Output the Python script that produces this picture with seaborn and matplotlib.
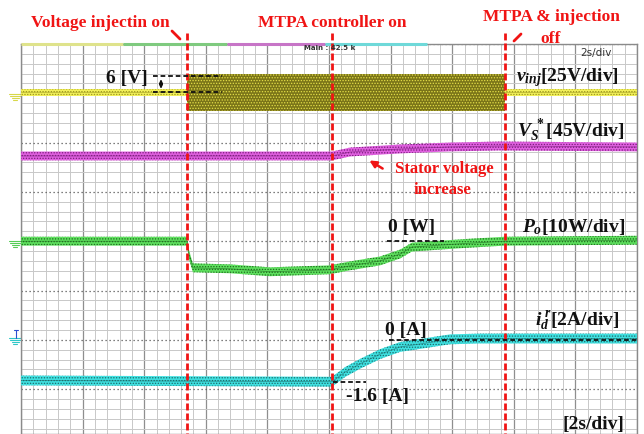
import numpy as np
import pandas as pd
import matplotlib
matplotlib.use("Agg")
import matplotlib.pyplot as plt
import seaborn as sns
from matplotlib.ticker import MultipleLocator, NullFormatter

# ---------------- data ----------------
# time axis: 2 s/div, 10 divisions
event_times = [5.39, 10.10, 15.71]      # injection on, MTPA on, MTPA & injection off

# v_inj [25 V/div], ground at 7.0 div
vinj_t = [0.0, 5.39, 5.39, 15.71, 15.71, 20.0]
vinj_center = [0.5, 0.5, 0.3, 0.3, 0.5, 0.5]
vinj_halfwidth = [1.6, 1.6, 9.3, 9.3, 1.6, 1.6]

# V_s* [45 V/div], reference offset 5.0 div
vs_t = [0.0, 10.10, 10.68, 12.31, 13.93, 15.55, 20.0]
vs_v = [32.8, 32.8, 36.4, 39.2, 41.0, 41.9, 41.0]

# P_o [10 W/div], ground at 4.0 div
po_t = [0.0, 5.39, 5.45, 5.58, 6.79, 8.08, 9.06, 10.03, 10.68, 11.66, 12.31,
        12.69, 13.60, 14.58, 15.71, 20.0]
po_v = [0.0, 0.0, -2.6, -5.4, -5.6, -6.2, -6.0, -5.8, -5.0, -4.0, -2.6,
        -1.2, -0.8, -0.4, 0.0, 0.2]

# i_d^r [2 A/div], ground at 2.0 div
id_t = [0.0, 10.10, 10.52, 11.00, 11.66, 12.31, 12.95, 13.93, 14.90, 20.0]
id_v = [-1.65, -1.70, -1.31, -0.98, -0.58, -0.29, -0.17, 0.02, 0.05, 0.05]

# ---------------- style ----------------
sns.set_theme(style="white")
plt.rcParams["font.family"] = ["Liberation Serif", "DejaVu Sans"]
plt.rcParams["mathtext.fontset"] = "custom"
plt.rcParams["mathtext.rm"] = "Liberation Serif:bold"
plt.rcParams["mathtext.it"] = "Liberation Serif:italic:bold"
plt.rcParams["mathtext.bf"] = "Liberation Serif:bold"
plt.rcParams["hatch.linewidth"] = 0.6

W, H = 644, 435
fig = plt.figure(figsize=(W / 100, H / 100), dpi=100)
DIV_PX_X, DIV_PX_Y = 61.6, 49.3
GRID_L, GRID_T = 21, 45
ax = fig.add_axes([GRID_L / W, 0, 616 / W, (H - GRID_T) / H])
ybot = 8 - (H - GRID_T) / DIV_PX_Y
ax.set_xlim(0, 20)
ax.set_ylim(ybot, 8)


def X(px):
    return (px - GRID_L) / DIV_PX_X * 2.0


def Y(py):
    return 8 - (py - GRID_T) / DIV_PX_Y


# grid
ax.xaxis.set_major_locator(MultipleLocator(2))
ax.xaxis.set_minor_locator(MultipleLocator(0.4))
ax.yaxis.set_major_locator(MultipleLocator(1))
ax.yaxis.set_minor_locator(MultipleLocator(0.2))
ax.xaxis.set_major_formatter(NullFormatter())
ax.yaxis.set_major_formatter(NullFormatter())
ax.tick_params(which="both", length=0)
ax.grid(which="minor", color="#c8c8c8", lw=0.7)
ax.grid(which="major", axis="x", color="#8e8e8e", lw=0.9)
ax.grid(which="major", axis="y", color="#555555", lw=0.9, ls=(0, (1, 2.2)))
ax.set_axisbelow(True)
for s in ax.spines.values():
    s.set_color("#8a8a8a")
    s.set_linewidth(1.0)


def band(t, center_div, hw_div, face, speck, z=3):
    c = np.asarray(center_div)
    h = np.asarray(hw_div)
    ax.fill_between(t, c - h, c + h, facecolor=face, edgecolor=speck,
                    hatch="......", lw=0, zorder=z)
    df = pd.DataFrame({"t": t, "y": c})
    sns.lineplot(data=df, x="t", y="y", ax=ax, color=speck, lw=0.6,
                 alpha=0.6, zorder=z + 0.1, sort=False)


# v_inj
vinj_c = 7.0 + np.array(vinj_center) / 25.0
vinj_h = np.array(vinj_halfwidth) / 25.0
t_arr = np.array(vinj_t)
on = (t_arr >= event_times[0]) & (t_arr <= event_times[2])
band(vinj_t, vinj_c, np.full(len(vinj_t), 0.065), "#f2f05a", "#9c9620", z=3)
idx = [1, 2, 3, 4]
ax.fill_between(t_arr[2:4], (vinj_c - vinj_h)[2:4], (vinj_c + vinj_h)[2:4],
                facecolor="#7a7418", edgecolor="#e4df48", hatch="......",
                lw=0, zorder=3.5)

# V_s*
band(vs_t, 5.0 + np.array(vs_v) / 45.0, np.full(len(vs_t), 0.09),
     "#e060e0", "#7a1f7a")
# P_o
band(po_t, 4.0 + np.array(po_v) / 10.0, np.full(len(po_t), 0.09),
     "#5ee05e", "#1f6a1f")
# i_d
band(id_t, 2.0 + np.array(id_v) / 2.0, np.full(len(id_t), 0.1),
     "#3fe0e0", "#1d6b6b")

ax.set_xlabel("")
ax.set_ylabel("")

# top colour strip
strip = [(21, 123, "#dfe38c"), (123, 227, "#7fca7f"),
         (227, 325, "#c775c7"), (325, 427, "#6fd9d9")]
for a, b, c in strip:
    ax.plot([X(a), X(b)], [8, 8], color=c, lw=2.2, clip_on=False, zorder=6,
            solid_capstyle="butt")

# ground markers
def ground(py, color):
    x0 = X(9)
    ax.plot([X(9), X(21)], [Y(py), Y(py)], color=color, lw=0.8, clip_on=False)
    for k, w in enumerate([5, 3.5, 2]):
        ax.plot([X(15 - w), X(15 + w)], [Y(py + 2 + 2 * k)] * 2, color=color,
                lw=0.8, clip_on=False)

ground(95, "#d8d84a")
ground(242, "#55cc55")
ground(339, "#30c8c8")
ax.plot([X(14), X(18)], [Y(331), Y(331)], color="#3050d0", lw=0.8, clip_on=False)
ax.plot([X(16), X(16)], [Y(331), Y(339)], color="#3050d0", lw=0.8, clip_on=False)

# red event lines
RED = "#f01414"
for te in event_times:
    ax.plot([te, te], [Y(34), Y(H)], color=RED, lw=2.0, dashes=(2.5, 1.1),
            clip_on=False, zorder=8)
ax.plot([X(172), X(180)], [Y(32), Y(40)], color=RED, lw=2, clip_on=False)
ax.plot([X(514), X(521)], [Y(42), Y(35)], color=RED, lw=2, clip_on=False)

tkw = dict(color=RED, fontweight="bold", fontsize=12.5, clip_on=False,
           va="center", ha="center")
ax.text(X(100), Y(23), "Voltage injectin on", **tkw)
ax.text(X(332), Y(23), "MTPA controller on", **tkw)
ax.text(X(551), Y(17), "MTPA & injection", **tkw)
ax.text(X(551), Y(39), "off", **tkw)
ax.text(X(444), Y(169), "Stator voltage", **dict(tkw, fontsize=12))
ax.text(X(443), Y(190), "increase", **dict(tkw, fontsize=12))
ax.annotate("", xy=(X(367), Y(160)), xytext=(X(385), Y(171)),
            arrowprops=dict(arrowstyle="-|>", color=RED, lw=1.8,
                            mutation_scale=10), zorder=9)

# black annotation lines
BK = "#111111"
dk = dict(color=BK, lw=1.3, dashes=(2.6, 1.6), zorder=9, clip_on=False)
ax.plot([X(153), X(222)], [Y(77), Y(77)], **dk)
ax.plot([X(153), X(222)], [Y(93), Y(93)], **dk)
ax.annotate("", xy=(X(161), Y(77.5)), xytext=(X(161), Y(92.5)),
            arrowprops=dict(arrowstyle="<|-|>", color=BK, lw=1.0,
                            mutation_scale=5), zorder=9)
ax.plot([X(387), X(444)], [Y(242), Y(242)], **dk)
ax.plot([X(389), X(637)], [Y(341), Y(341)], **dk)
ax.plot([X(333), X(366)], [Y(383), Y(383)], **dk)

bkw = dict(color=BK, fontweight="bold", fontsize=14, va="center", ha="left",
           zorder=10)
ax.text(X(106), Y(78), "6 [V]", **bkw)
ax.text(X(516), Y(78), r"$v_{inj}$[25V/div]", **bkw)
ax.text(X(517), Y(131), r"$V_S^{\;*}$[45V/div]", **bkw)
ax.text(X(522), Y(227), r"$P_o$[10W/div]", **bkw)
ax.text(X(535), Y(321), r"$i_d^{\;r}$[2A/div]", **bkw)
ax.text(X(388), Y(228), "0 [W]", **bkw)
ax.text(X(385), Y(330), "0 [A]", **bkw)
ax.text(X(346), Y(397), "-1.6 [A]", **bkw)
ax.text(X(562), Y(425), "[2s/div]", **bkw)

ax.text(X(580), Y(53), "2s/div", family="DejaVu Sans", fontsize=7.5,
        color="#333333", va="center", ha="left", zorder=10)
ax.text(X(304), Y(48.5), "Main : 42.5 k", family="DejaVu Sans", fontsize=5,
        fontweight="bold", color="#333333", va="center", ha="left", zorder=10)

fig.savefig("out.png", dpi=100)
